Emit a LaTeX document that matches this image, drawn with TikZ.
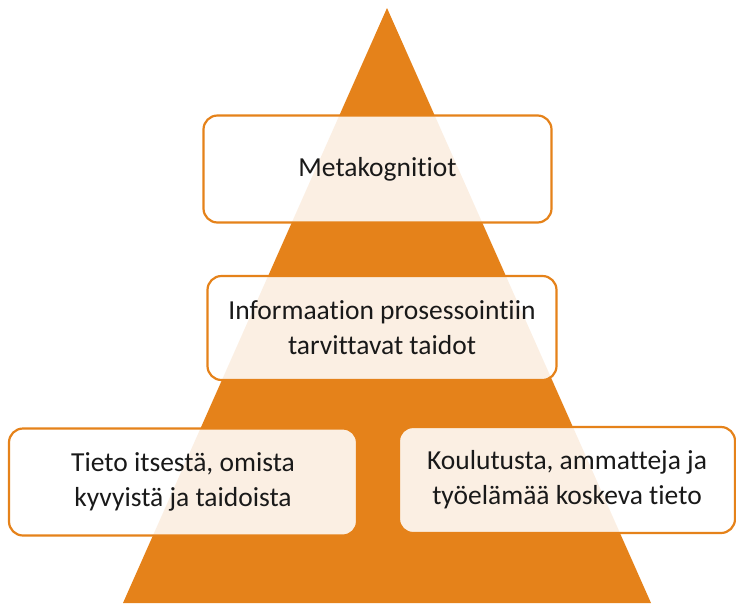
\documentclass[tikz,border=0pt]{standalone}
\usepackage{fontspec}
\setmainfont[Ligatures={NoCommon,NoRare,NoContextual},RawFeature={-liga}]{Carlito}
\definecolor{pyorange}{HTML}{E5821A}
\begin{document}
\begin{tikzpicture}[x=1pt,y=-1pt,
  box/.style={draw=pyorange, line width=2.2pt, rounded corners=14pt, fill=white, fill opacity=0.88, text opacity=1, align=center, font=\fontsize{27.5}{35}\selectfont, inner sep=0pt, text=black!90}]
\useasboundingbox (0,0) rectangle (736,603);
\fill[pyorange] (387,8) coordinate (apex) -- (651,603) -- (123,603) -- cycle;
\node[box, minimum width=348pt, minimum height=107pt] (meta) at (377.5,169) {Metakognitiot};
\node[box, minimum width=349pt, minimum height=104pt] (info) at (382,328) {Informaation prosessointiin\\tarvittavat taidot};
\node[box, minimum width=348pt, minimum height=107pt] (self) at (183,482) {Tieto itsestä, omista\\kyvyistä ja taidoista};
\node[box, minimum width=336pt, minimum height=106pt] (work) at (567,480) {Koulutusta, ammatteja ja\\työelämää koskeva tieto};
\end{tikzpicture}
\end{document}
